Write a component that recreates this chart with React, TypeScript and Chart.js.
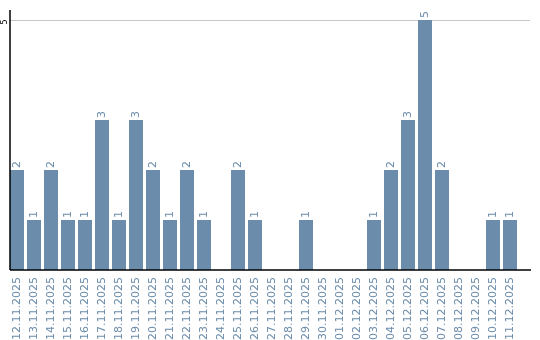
import React, { useEffect, useRef } from "react";
import { Chart, registerables } from "chart.js";

Chart.register(...registerables);

const categories = [
  "12.11.2025", "13.11.2025", "14.11.2025", "15.11.2025", "16.11.2025",
  "17.11.2025", "18.11.2025", "19.11.2025", "20.11.2025", "21.11.2025",
  "22.11.2025", "23.11.2025", "24.11.2025", "25.11.2025", "26.11.2025",
  "27.11.2025", "28.11.2025", "29.11.2025", "30.11.2025", "01.12.2025",
  "02.12.2025", "03.12.2025", "04.12.2025", "05.12.2025", "06.12.2025",
  "07.12.2025", "08.12.2025", "09.12.2025", "10.12.2025", "11.12.2025",
];

const counts = [
  2, 1, 2, 1, 1, 3, 1, 3, 2, 1,
  2, 1, 0, 2, 1, 0, 0, 1, 0, 0,
  0, 1, 2, 3, 5, 2, 0, 0, 1, 1,
];

const yTickLabels = [5];

const BAR_COLOR = "#6b8cab";
const LABEL_COLOR = "#6b8cab";

const decorPlugin = {
  id: "decor",
  beforeDatasetsDraw(chart: any) {
    const { ctx, scales } = chart;
    const y = scales.y;
    const left = 10;
    const right = 530;
    ctx.save();
    ctx.strokeStyle = "#c8c8c8";
    ctx.lineWidth = 1;
    yTickLabels.forEach((v) => {
      const py = Math.round(y.getPixelForValue(v)) + 0.5;
      ctx.beginPath();
      ctx.moveTo(left, py);
      ctx.lineTo(right, py);
      ctx.stroke();
    });
    ctx.restore();
  },
  afterDatasetsDraw(chart: any) {
    const { ctx, scales } = chart;
    const y = scales.y;
    const left = 10;
    const right = 531;
    const bottom = Math.round(y.getPixelForValue(0));
    const top = Math.round(y.getPixelForValue(y.max));
    ctx.save();
    ctx.strokeStyle = "#000";
    ctx.lineWidth = 1.5;
    ctx.beginPath();
    ctx.moveTo(left, bottom);
    ctx.lineTo(right, bottom);
    ctx.stroke();
    ctx.beginPath();
    ctx.moveTo(left, top);
    ctx.lineTo(left, bottom);
    ctx.stroke();

    ctx.fillStyle = "#000";
    ctx.font = "8px 'DejaVu Sans'";
    yTickLabels.forEach((v) => {
      const py = y.getPixelForValue(v) + 2;
      ctx.save();
      ctx.translate(5, py);
      ctx.rotate(-Math.PI / 2);
      ctx.textAlign = "center";
      ctx.textBaseline = "middle";
      ctx.fillText(String(v), 0, 0);
      ctx.restore();
    });

    const meta = chart.getDatasetMeta(0);
    ctx.fillStyle = LABEL_COLOR;
    ctx.font = "11px 'DejaVu Sans'";
    meta.data.forEach((bar: any, i: number) => {
      const v = counts[i];
      if (!v) return;
      ctx.save();
      ctx.translate(bar.x, bar.y - 2);
      ctx.rotate(-Math.PI / 2);
      ctx.textAlign = "left";
      ctx.textBaseline = "middle";
      ctx.fillText(String(v), 0, 0);
      ctx.restore();
    });
    ctx.restore();
  },
};

export default function App() {
  const ref = useRef<HTMLCanvasElement | null>(null);
  useEffect(() => {
    if (!ref.current) return;
    const chart = new Chart(ref.current, {
      type: "bar",
      data: {
        labels: categories,
        datasets: [
          {
            data: counts,
            backgroundColor: BAR_COLOR,
            borderWidth: 0,
            categoryPercentage: 1,
            barPercentage: 14 / 17,
          },
        ],
      },
      options: {
        animation: false,
        responsive: false,
        maintainAspectRatio: false,
        layout: { padding: { left: 8.5, right: 21.5, top: 10, bottom: 0 } },
        plugins: {
          legend: { display: false },
          tooltip: { enabled: false },
          title: { display: false },
        },
        scales: {
          x: {
            type: "category",
            offset: true,
            grid: { display: false, drawTicks: false },
            border: { display: false },
            ticks: {
              color: LABEL_COLOR,
              font: { family: "'DejaVu Sans'", size: 11 },
              minRotation: 90,
              maxRotation: 90,
              autoSkip: false,
              padding: 7,
            },
            afterFit: (scale: any) => {
              scale.height = 70;
            },
          },
          y: {
            display: false,
            min: 0,
            max: 5.2,
          },
        },
      },
      plugins: [decorPlugin],
    });
    return () => chart.destroy();
  }, []);
  return (
    <div style={{ position: "fixed", left: 0, top: 0, width: 540, height: 340, background: "#fff" }}>
      <canvas ref={ref} width={540} height={340} style={{ width: 540, height: 340, display: "block" }} />
    </div>
  );
}
